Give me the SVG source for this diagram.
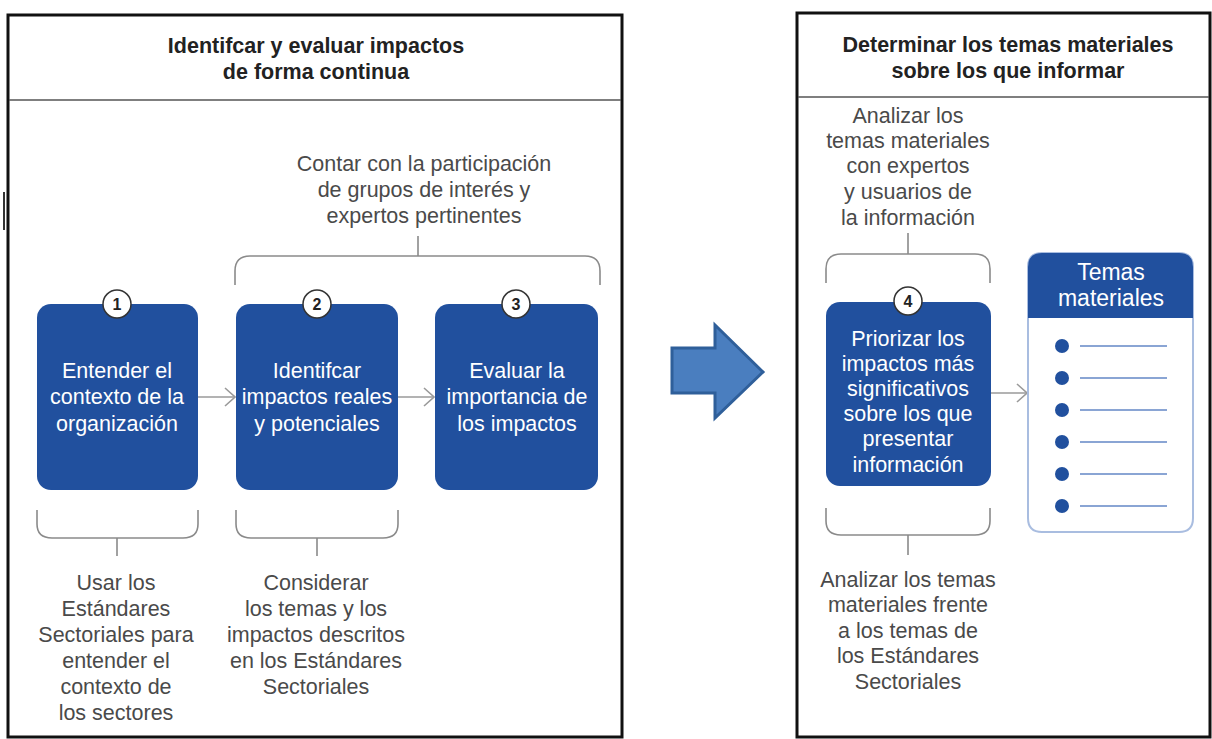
<svg xmlns="http://www.w3.org/2000/svg" width="1212" height="739" viewBox="0 0 1212 739">
<defs>
<style>
.panel{fill:#fff;stroke:#111;stroke-width:3}
.sep{stroke:#555;stroke-width:1.5}
.title{font-family:"Liberation Sans",Arial,sans-serif;font-size:21.5px;font-weight:bold;fill:#222;text-anchor:middle}
.box{fill:#21509e}
.bt{font-family:"Liberation Sans",Arial,sans-serif;font-size:21.5px;fill:#fff;text-anchor:middle}
.note{font-family:"Liberation Sans",Arial,sans-serif;font-size:21.5px;fill:#4a4a4a;text-anchor:middle}
.brk{fill:none;stroke:#8a8a8a;stroke-width:1.6}
.num{fill:#fff;stroke:#333;stroke-width:1.5}
.nt{font-family:"Liberation Sans",Arial,sans-serif;font-size:16px;font-weight:bold;fill:#222;text-anchor:middle}
.conn{fill:none;stroke:#9a9a9a;stroke-width:1.6}
.dot{fill:#21509e}
.ln{stroke:#8aa5d4;stroke-width:2}
</style>
<marker id="chev" viewBox="0 0 12 20" refX="11" refY="10" markerWidth="12" markerHeight="20" markerUnits="userSpaceOnUse" orient="auto">
<path d="M1,1 L11,10 L1,19" fill="none" stroke="#9a9a9a" stroke-width="1.6"/>
</marker>
</defs>
<rect width="1212" height="739" fill="#fff"/>
<line x1="4" y1="192" x2="4" y2="230" stroke="#333" stroke-width="2"/>

<g id="panel-left">
<rect class="panel" x="8" y="15" width="614" height="722"/>
<line class="sep" x1="9" y1="100" x2="621" y2="100"/>
<text class="title" x="316" y="53">Identifcar y evaluar impactos</text>
<text class="title" x="316" y="79">de forma continua</text>
</g>

<g id="panel-right">
<rect class="panel" x="797" y="13" width="413" height="724"/>
<line class="sep" x1="798" y1="97" x2="1209" y2="97"/>
<text class="title" x="1008" y="52">Determinar los temas materiales</text>
<text class="title" x="1008" y="78">sobre los que informar</text>
</g>

<g id="big-arrow">
<path d="M672,348 L715,348 L715,325 L763,372 L715,418 L715,393 L672,393 Z" fill="#4a7ebf" stroke="#2f5f9a" stroke-width="3" stroke-linejoin="miter"/>
</g>

<g id="connectors">
<line class="conn" x1="198" y1="397" x2="235" y2="397" marker-end="url(#chev)"/>
<line class="conn" x1="398" y1="397" x2="434" y2="397" marker-end="url(#chev)"/>
<line class="conn" x1="991" y1="393" x2="1027" y2="393" marker-end="url(#chev)"/>
</g>

<g id="note-top-left">
<path class="brk" d="M235,285 V271 Q235,256 250,256 H585 Q600,256 600,271 V285"/>
<line class="brk" x1="418" y1="236" x2="418" y2="256"/>
<text class="note" x="424" y="171">Contar con la participación</text>
<text class="note" x="424" y="197">de grupos de interés y</text>
<text class="note" x="424" y="223">expertos pertinentes</text>
</g>

<g id="node-1">
<rect class="box" x="37" y="304" width="161" height="186" rx="14"/>
<circle class="num" cx="117" cy="304" r="14"/>
<text class="nt" x="117" y="310">1</text>
<text class="bt" x="117" y="378">Entender el</text>
<text class="bt" x="117" y="404">contexto de la</text>
<text class="bt" x="117" y="431">organización</text>
</g>

<g id="node-2">
<rect class="box" x="236" y="304" width="162" height="186" rx="14"/>
<circle class="num" cx="317" cy="304" r="14"/>
<text class="nt" x="317" y="310">2</text>
<text class="bt" x="317" y="378">Identifcar</text>
<text class="bt" x="317" y="404">impactos reales</text>
<text class="bt" x="317" y="431">y potenciales</text>
</g>

<g id="node-3">
<rect class="box" x="435" y="304" width="163" height="186" rx="14"/>
<circle class="num" cx="516" cy="304" r="14"/>
<text class="nt" x="516" y="310">3</text>
<text class="bt" x="517" y="378">Evaluar la</text>
<text class="bt" x="517" y="404">importancia de</text>
<text class="bt" x="517" y="431">los impactos</text>
</g>

<g id="note-bottom-1">
<path class="brk" d="M37,510 V524 Q37,538 52,538 H183 Q198,538 198,524 V510"/>
<line class="brk" x1="117" y1="538" x2="117" y2="556"/>
<text class="note" x="116" y="590">Usar los</text>
<text class="note" x="116" y="616">Estándares</text>
<text class="note" x="116" y="642">Sectoriales para</text>
<text class="note" x="116" y="668">entender el</text>
<text class="note" x="116" y="694">contexto de</text>
<text class="note" x="116" y="720">los sectores</text>
</g>

<g id="note-bottom-2">
<path class="brk" d="M236,510 V524 Q236,538 251,538 H383 Q398,538 398,524 V510"/>
<line class="brk" x1="317" y1="538" x2="317" y2="556"/>
<text class="note" x="316" y="590">Considerar</text>
<text class="note" x="316" y="616">los temas y los</text>
<text class="note" x="316" y="642">impactos descritos</text>
<text class="note" x="316" y="668">en los Estándares</text>
<text class="note" x="316" y="694">Sectoriales</text>
</g>

<g id="note-top-right">
<text class="note" x="908" y="123">Analizar los</text>
<text class="note" x="908" y="148">temas materiales</text>
<text class="note" x="908" y="173">con expertos</text>
<text class="note" x="908" y="199">y usuarios de</text>
<text class="note" x="908" y="225">la información</text>
<line class="brk" x1="908" y1="233" x2="908" y2="254"/>
<path class="brk" d="M826,283 V269 Q826,254 841,254 H975 Q990,254 990,269 V283"/>
</g>

<g id="node-4">
<rect class="box" x="826" y="302" width="165" height="184" rx="14"/>
<circle class="num" cx="908" cy="301" r="14"/>
<text class="nt" x="908" y="307">4</text>
<text class="bt" x="908" y="346">Priorizar los</text>
<text class="bt" x="908" y="371">impactos más</text>
<text class="bt" x="908" y="396">significativos</text>
<text class="bt" x="908" y="421">sobre los que</text>
<text class="bt" x="908" y="446">presentar</text>
<text class="bt" x="908" y="472">información</text>
</g>

<g id="node-temas">
<path d="M1028,267 Q1028,253 1042,253 H1179 Q1193,253 1193,267 V518 Q1193,532 1179,532 H1042 Q1028,532 1028,518 Z" fill="#fff" stroke="#a9bde0" stroke-width="2"/>
<path d="M1028,267 Q1028,253 1042,253 H1179 Q1193,253 1193,267 V318 H1028 Z" class="box"/>
<text class="bt" x="1111" y="280" style="font-size:23px">Temas</text>
<text class="bt" x="1111" y="306" style="font-size:23px">materiales</text>
<circle class="dot" cx="1062" cy="346" r="7"/><line class="ln" x1="1080" y1="346" x2="1167" y2="346"/>
<circle class="dot" cx="1062" cy="378" r="7"/><line class="ln" x1="1080" y1="378" x2="1167" y2="378"/>
<circle class="dot" cx="1062" cy="410" r="7"/><line class="ln" x1="1080" y1="410" x2="1167" y2="410"/>
<circle class="dot" cx="1062" cy="442" r="7"/><line class="ln" x1="1080" y1="442" x2="1167" y2="442"/>
<circle class="dot" cx="1062" cy="474" r="7"/><line class="ln" x1="1080" y1="474" x2="1167" y2="474"/>
<circle class="dot" cx="1062" cy="506" r="7"/><line class="ln" x1="1080" y1="506" x2="1167" y2="506"/>
</g>

<g id="note-bottom-4">
<path class="brk" d="M826,508 V521 Q826,535 841,535 H975 Q990,535 990,521 V508"/>
<line class="brk" x1="908" y1="535" x2="908" y2="555"/>
<text class="note" x="908" y="587">Analizar los temas</text>
<text class="note" x="908" y="612">materiales frente</text>
<text class="note" x="908" y="638">a los temas de</text>
<text class="note" x="908" y="663">los Estándares</text>
<text class="note" x="908" y="689">Sectoriales</text>
</g>
</svg>
